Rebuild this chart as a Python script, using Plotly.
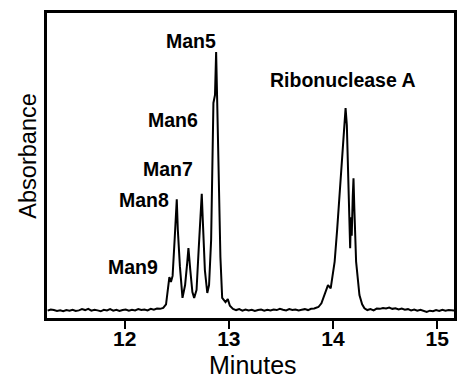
import plotly.graph_objects as go

# Retention time (minutes) and absorbance (arbitrary units)
time_min = [
    11.26, 11.29, 11.32, 11.35, 11.38, 11.41, 11.44, 11.47, 11.50, 11.53,
    11.56, 11.59, 11.62, 11.65, 11.68, 11.71, 11.74, 11.77, 11.80, 11.83,
    11.86, 11.89, 11.92, 11.95, 11.98, 12.01, 12.04, 12.07, 12.10, 12.13,
    12.16, 12.19, 12.22, 12.25, 12.28, 12.31, 12.34, 12.37, 12.397,
    12.429, 12.444, 12.46, 12.48, 12.49, 12.50, 12.51, 12.53, 12.555,
    12.58, 12.60, 12.612, 12.63, 12.65, 12.667, 12.69, 12.71, 12.73, 12.74,
    12.75, 12.77, 12.793, 12.81, 12.83, 12.843, 12.852, 12.867, 12.878,
    12.89, 12.905, 12.919, 12.936, 12.968, 12.99, 13.01, 13.04, 13.07,
    13.10, 13.13, 13.16, 13.19, 13.22, 13.25, 13.28, 13.31, 13.34, 13.37,
    13.40, 13.43, 13.46, 13.49, 13.52, 13.55, 13.58, 13.61, 13.64, 13.67,
    13.70, 13.73, 13.76, 13.79, 13.82, 13.86, 13.889, 13.92, 13.952, 13.978,
    14.00, 14.016, 14.04, 14.064, 14.095, 14.121, 14.133, 14.143, 14.155,
    14.165, 14.172, 14.18, 14.19, 14.197, 14.205, 14.212, 14.222, 14.254,
    14.28, 14.302, 14.33, 14.36, 14.39, 14.42, 14.45, 14.48, 14.51, 14.54,
    14.57, 14.60, 14.63, 14.66, 14.69, 14.72, 14.75, 14.78, 14.81, 14.84,
    14.87, 14.90, 14.93, 14.96, 14.99, 15.02, 15.05, 15.08, 15.11, 15.14, 15.17,
]
absorbance = [
    0.024, 0.028, 0.026, 0.023, 0.025, 0.022, 0.026, 0.024, 0.027, 0.023,
    0.025, 0.029, 0.026, 0.030, 0.024, 0.027, 0.025, 0.022, 0.027, 0.025,
    0.029, 0.024, 0.027, 0.023, 0.026, 0.028, 0.024, 0.027, 0.025, 0.029,
    0.026, 0.028, 0.025, 0.030, 0.027, 0.031, 0.030, 0.033, 0.045,
    0.134, 0.118, 0.138, 0.26, 0.334, 0.389, 0.29, 0.17, 0.066,
    0.108, 0.18, 0.229, 0.157, 0.085, 0.066, 0.092, 0.223, 0.354, 0.407,
    0.32, 0.157, 0.082, 0.108, 0.256, 0.50, 0.705, 0.731, 0.872,
    0.68, 0.387, 0.20, 0.066, 0.052, 0.062, 0.040, 0.030, 0.026,
    0.029, 0.024, 0.028, 0.025, 0.027, 0.023, 0.026, 0.028, 0.024, 0.027,
    0.025, 0.028, 0.026, 0.030, 0.027, 0.025, 0.029, 0.026, 0.028, 0.025,
    0.027, 0.029, 0.026, 0.030, 0.031, 0.036, 0.048, 0.075, 0.108, 0.097,
    0.14, 0.185, 0.29, 0.403, 0.567, 0.688, 0.633, 0.512, 0.354,
    0.229, 0.33, 0.27, 0.40, 0.458, 0.36, 0.30, 0.185, 0.075,
    0.045, 0.032, 0.026, 0.029, 0.025, 0.031, 0.030, 0.033, 0.031, 0.034,
    0.030, 0.032, 0.028, 0.031, 0.027, 0.029, 0.025, 0.028, 0.024, 0.027,
    0.023, 0.020, 0.024, 0.022, 0.026, 0.023, 0.027, 0.024, 0.026, 0.025, 0.024,
]

x_ticks = [12, 13, 14, 15]
x_tick_labels = ["12", "13", "14", "15"]

peak_labels = ["Man5", "Man6", "Man7", "Man8", "Man9", "Ribonuclease A"]
label_x = [12.638, 12.467, 12.419, 12.181, 12.076, 14.10]
label_y = [0.908, 0.649, 0.489, 0.387, 0.167, 0.780]

FONT = "Liberation Sans, Arial, Helvetica, sans-serif"

fig = go.Figure()
fig.add_trace(go.Scatter(
    x=time_min, y=absorbance, mode="lines",
    line=dict(color="black", width=2),
    hoverinfo="skip", showlegend=False,
))

for txt, lx, ly in zip(peak_labels, label_x, label_y):
    fig.add_annotation(x=lx, y=ly, xref="x", yref="y", text="<b>%s</b>" % txt,
                       showarrow=False, xanchor="center", yanchor="middle",
                       font=dict(family=FONT, size=19.5, color="black"))

fig.add_annotation(x=0.507, y=-0.154, xref="paper", yref="paper", text="Minutes",
                   showarrow=False, xanchor="center", yanchor="middle",
                   font=dict(family=FONT, size=25, color="black"))
fig.add_annotation(x=-0.046, y=0.53, xref="paper", yref="paper", text="Absorbance",
                   textangle=-90, showarrow=False, xanchor="center", yanchor="middle",
                   font=dict(family=FONT, size=23.5, color="black"))

fig.update_layout(
    width=458, height=379,
    margin=dict(l=47, r=1, t=13, b=61),
    paper_bgcolor="white", plot_bgcolor="white",
    font=dict(family=FONT, color="black"),
    xaxis=dict(range=[11.254, 15.162], tickvals=x_ticks,
               ticktext=["<b>%s</b>" % t for t in x_tick_labels],
               ticks="outside", ticklen=8, tickwidth=2, tickcolor="black",
               ticklabelstandoff=-8,
               showline=True, linecolor="black", linewidth=2.5, mirror=True,
               showgrid=False, zeroline=False,
               tickfont=dict(family=FONT, size=21, color="black")),
    yaxis=dict(range=[0, 1], showticklabels=False, ticks="",
               showline=True, linecolor="black", linewidth=2.5, mirror=True,
               showgrid=False, zeroline=False),
)

fig.write_html("out.html")
